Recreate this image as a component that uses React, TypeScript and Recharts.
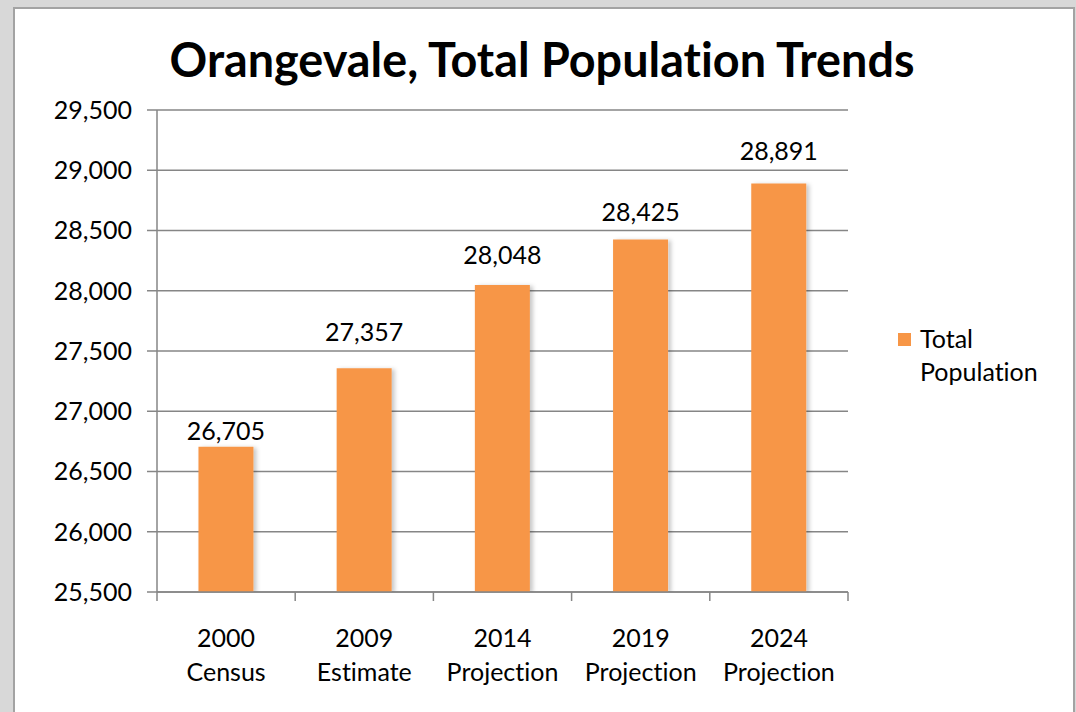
import React from "react";
import { BarChart, Bar, XAxis, YAxis, CartesianGrid, Legend, LabelList } from "recharts";

// categories (two-line labels) and values
const years = ["2000", "2009", "2014", "2019", "2024"];
const kinds = ["Census", "Estimate", "Projection", "Projection", "Projection"];
const population = [26705, 27357, 28048, 28425, 28891];
const yTicks = [25500, 26000, 26500, 27000, 27500, 28000, 28500, 29000, 29500];

// gap between each bar top and its value label (labels were hand-placed in the original)
const labelGaps = [7, 27, 21, 19, 23];

const ORANGE = "#F79646";
const GRID = "#868686";
const FONT = "Lato, 'Open Sans', sans-serif";
const NOLIG = { fontVariantLigatures: "none" as const, fontFeatureSettings: "'liga' 0, 'clig' 0" };

const chartData = years.map((y, i) => ({
  year: y,
  kind: kinds[i],
  value: population[i],
}));

const fmt = (v: number) => v.toLocaleString("en-US");

const CategoryTick = (props: any) => {
  const { x, y, payload, index, visibleTicksCount } = props;
  const half = payload.offset || 0;
  const d = chartData[index];
  return (
    <g>
      <line x1={x - half} x2={x - half} y1={y} y2={y + 9} stroke={GRID} strokeWidth={1.5} />
      {index === visibleTicksCount - 1 && (
        <line x1={x + half} x2={x + half} y1={y} y2={y + 9} stroke={GRID} strokeWidth={1.5} />
      )}
      <text x={x} y={y + 55} textAnchor="middle" fontSize={25} fontFamily={FONT} fill="#000" style={NOLIG}>
        {d.year}
      </text>
      <text x={x} y={y + 89} textAnchor="middle" fontSize={25} fontFamily={FONT} fill="#000" style={NOLIG}>
        {d.kind}
      </text>
    </g>
  );
};

const ValueLabel = (props: any) => {
  const { x, y, width, value, index } = props;
  return (
    <text x={x + width / 2} y={y - labelGaps[index]} textAnchor="middle" fontSize={25} fontFamily={FONT} fill="#000" style={NOLIG}>
      {fmt(Number(value))}
    </text>
  );
};

const LegendBox = (props: any) => {
  const item = (props.payload || [])[0];
  return (
    <div style={{ display: "flex", alignItems: "flex-start", fontFamily: FONT, fontSize: 25, lineHeight: "33px", color: "#000", ...NOLIG }}>
      <div style={{ width: 13, height: 13, background: item ? item.color : ORANGE, marginTop: 11, marginRight: 9 }} />
      <div style={{ width: 130 }}>Total Population</div>
    </div>
  );
};

export default function App() {
  return (
    <div style={{ position: "absolute", left: 0, top: 0, width: 1076, height: 712, background: "#d8d8d8", overflow: "hidden" }}>
      <div
        style={{
          position: "absolute",
          left: 13,
          top: 7,
          width: 1058,
          height: 720,
          background: "#fff",
          border: "2px solid #a3a3a3",
        }}
      />
      <svg style={{ position: "absolute", left: 0, top: 0 }} width={1076} height={100}>
        <text
          x={542}
          y={77}
          textAnchor="middle"
          fontFamily={FONT}
          fontWeight={700}
          fontSize={48}
          textLength={745}
          lengthAdjust="spacingAndGlyphs"
          fill="#000"
          style={NOLIG}
        >
          Orangevale, Total Population Trends
        </text>
      </svg>
      <div style={{ position: "absolute", left: 0, top: 0 }}>
        <BarChart
          width={1076}
          height={712}
          data={chartData}
          margin={{ top: 110, right: 228, bottom: 0, left: 0 }}
          barCategoryGap="30%"
        >
          <defs>
            <filter id="barShadow" x="-20%" y="-5%" width="150%" height="115%">
              <feDropShadow dx={3} dy={1} stdDeviation={2} floodColor="#000" floodOpacity={0.22} />
            </filter>
          </defs>
          <CartesianGrid vertical={false} stroke={GRID} strokeWidth={1.5} />
          <XAxis
            dataKey="year"
            axisLine={{ stroke: GRID, strokeWidth: 1.5 }}
            tickLine={false}
            tickSize={0}
            tickMargin={0}
            tick={<CategoryTick />}
            interval={0}
            height={120}
          />
          <YAxis
            domain={[25500, 29500]}
            ticks={yTicks}
            width={157}
            axisLine={{ stroke: GRID, strokeWidth: 1.5 }}
            tickLine={{ stroke: GRID, strokeWidth: 1.5 }}
            tickSize={10}
            tickMargin={15}
            tickFormatter={fmt}
            tick={{ fill: "#000", fontSize: 25, fontFamily: FONT }}
            allowDataOverflow
          />
          <Legend
            layout="vertical"
            align="center"
            verticalAlign="middle"
            wrapperStyle={{ left: 898, top: 322, width: 170 }}
            content={<LegendBox />}
          />
          <Bar dataKey="value" name="Total Population" fill={ORANGE} isAnimationActive={false} style={{ filter: "url(#barShadow)" }}>
            <LabelList dataKey="value" content={<ValueLabel />} />
          </Bar>
        </BarChart>
      </div>
    </div>
  );
}
